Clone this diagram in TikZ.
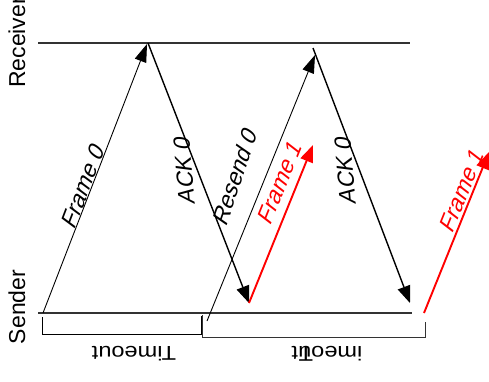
\documentclass[tikz,border=0pt]{standalone}
\usepackage{fontspec}
\setmainfont{Liberation Sans}
\usetikzlibrary{arrows.meta}
\begin{document}
\begin{tikzpicture}[x=1pt,y=1pt,
  thinln/.style={line width=0.8pt,black},
  ackln/.style={line width=1.4pt,black,-{Triangle[length=17pt,width=13pt]}},
  fwdln/.style={line width=0.9pt,black,-{Triangle[length=18pt,width=12pt]}},
  redln/.style={line width=1.9pt,red,-{Triangle[length=17pt,width=13pt]}},
  axisln/.style={line width=1.1pt,black!80},
  lbl/.style={inner sep=0pt,font=\fontsize{23}{23}\selectfont},
  side/.style={inner sep=0pt,rotate=90,font=\fontsize{23}{23}\selectfont},
  tmo/.style={inner sep=0pt,rotate=180,xscale=1.18,font=\fontsize{20}{20}\selectfont}]
\useasboundingbox (0,0) rectangle (489,-381);
% axes
\coordinate (rl) at (38,-43);  \coordinate (rr) at (410,-43);
\coordinate (sl) at (38,-313); \coordinate (sr) at (412,-313);
\draw[axisln] (rl) -- (rr);
\draw[axisln] (sl) -- (sr);
\node[side] (recv) at (17,-42.5) {Receiver};
\node[side] (send) at (17,-307) {Sender};
% messages
\coordinate (f0a) at (43,-313);  \coordinate (f0b) at (147,-44);
\coordinate (a0a) at (148,-43);  \coordinate (a0b) at (249,-303);
\coordinate (r0a) at (207,-321); \coordinate (r0b) at (315,-55);
\coordinate (a1a) at (313,-48);  \coordinate (a1b) at (410,-303);
\coordinate (f1a) at (249,-303); \coordinate (f1b) at (313,-145);
\coordinate (f2a) at (424,-313); \coordinate (f2b) at (489,-152);
\draw[fwdln] (f0a) -- (f0b);
\draw[ackln] (a0a) -- (a0b);
\draw[fwdln] (r0a) -- (r0b);
\draw[ackln] (a1a) -- (a1b);
\draw[redln] (f1a) -- (f1b);
\draw[redln] (f2a) -- (f2b);
% labels
\node[lbl,rotate=69,xslant=0.28] (lf0) at (83,-186) {Frame 0};
\node[lbl,rotate=95,xslant=0.22] (la0) at (184,-170) {ACK 0};
\node[lbl,rotate=71,xslant=0.28] (lr0) at (235,-176) {Resend 0};
\node[lbl,red,rotate=68,xslant=0.28] (lf1) at (280,-182) {Frame 1};
\node[lbl,rotate=95,xslant=0.22] (la1) at (345,-170) {ACK 0};
\node[lbl,red,rotate=68,xslant=0.28] (lf2) at (462,-190) {Frame 1};
% timeout brackets
\coordinate (b1a) at (42,-317); \coordinate (b1b) at (42,-334);
\coordinate (b1c) at (201,-334); \coordinate (b1d) at (201,-316);
\draw[thinln,line width=1pt] (b1a) -- (b1b) -- (b1c) -- (b1d);
\coordinate (b2a) at (202,-315); \coordinate (b2b) at (202,-337);
\coordinate (b2c) at (425,-337); \coordinate (b2d) at (425,-322);
\draw[thinln,line width=1pt,black!80] (b2a) -- (b2b) -- (b2c) -- (b2d);
\node[tmo] (t1) at (134,-354) {Timeout};
\node[tmo] (t2) at (327,-354) {imeout};
\node[tmo] (t2T) at (306,-354) {T};
\end{tikzpicture}
\end{document}
